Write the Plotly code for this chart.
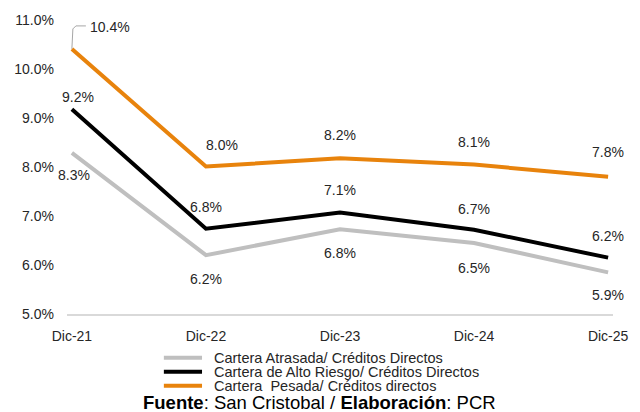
import plotly.graph_objects as go

# periods on the x axis
periods = ["Dic-21", "Dic-22", "Dic-23", "Dic-24", "Dic-25"]

# series values (%)
atrasada = [8.29, 6.20, 6.73, 6.45, 5.85]
alto_riesgo = [9.18, 6.74, 7.07, 6.72, 6.15]
pesada = [10.41, 8.01, 8.18, 8.05, 7.80]

# data labels as printed in the chart
atrasada_lbl = ["8.3%", "6.2%", "6.8%", "6.5%", "5.9%"]
alto_riesgo_lbl = ["9.2%", "6.8%", "7.1%", "6.7%", "6.2%"]
pesada_lbl = ["10.4%", "8.0%", "8.2%", "8.1%", "7.8%"]

names = ["Cartera Atrasada/ Créditos Directos",
         "Cartera de Alto Riesgo/ Créditos Directos",
         "Cartera  Pesada/ Créditos directos"]
colors = ["#BFBFBF", "#000000", "#E8830C"]

FONT = "Liberation Sans, Arial, sans-serif"

fig = go.Figure()
for vals, col in zip([atrasada, alto_riesgo, pesada], colors):
    fig.add_trace(go.Scatter(x=periods, y=vals, mode="lines",
                             line=dict(color=col, width=4),
                             showlegend=False, hoverinfo="skip"))

# label offsets (pixels) per point
offs_gray = [(2, -22), (0, -24), (0, -24), (0, -25), (0, -23)]
offs_black = [(6, 12), (0, 22), (0, 23), (0, 21), (0, 22)]
offs_orange = [(38, 22), (16, 22), (0, 23), (0, 23), (0, 25)]

ann = []
for vals, lbls, offs in [(atrasada, atrasada_lbl, offs_gray),
                         (alto_riesgo, alto_riesgo_lbl, offs_black),
                         (pesada, pesada_lbl, offs_orange)]:
    for i, (v, t) in enumerate(zip(vals, lbls)):
        ann.append(dict(x=periods[i], y=v, xref="x", yref="y", text=t,
                        showarrow=False, xshift=offs[i][0], yshift=offs[i][1],
                        font=dict(size=14, color="#262626", family=FONT)))

# leader line for 10.4%
fig.add_shape(type="path", xref="x", yref="y", xsizemode="pixel", ysizemode="pixel",
              xanchor=periods[0], yanchor=pesada[0],
              path="M0,0 L1,20 L4,23 L14,23", line=dict(color="#A6A6A6", width=1))

# manual legend
leg_y = [-0.1492, -0.1966, -0.2441]
for name, col, y in zip(names, colors, leg_y):
    fig.add_shape(type="line", xref="paper", yref="paper", x0=0.1774, x1=0.2473,
                  y0=y, y1=y, line=dict(color=col, width=4))
    ann.append(dict(x=0.2652, y=y, xref="paper", yref="paper", text=name,
                    showarrow=False, xanchor="left", yanchor="middle",
                    font=dict(size=14.5, color="#262626", family=FONT)))

ann.append(dict(x=0.4633, y=-0.302, xref="paper", yref="paper",
                text="<b>Fuente</b>: San Cristobal / <b>Elaboración</b>: PCR",
                showarrow=False, xanchor="center", yanchor="middle",
                font=dict(size=18.5, color="#000000", family=FONT)))

fig.update_layout(
    width=640, height=412,
    margin=dict(l=67, r=15, t=19, b=98),
    paper_bgcolor="white", plot_bgcolor="white",
    font=dict(family=FONT, size=14, color="#262626"),
    annotations=ann,
)
fig.update_xaxes(type="category", range=[-0.0365, 4.0365], showgrid=False,
                 showline=True, linecolor="#D9D9D9", linewidth=1.5,
                 ticks="", tickfont=dict(size=14), ticklabelstandoff=8)
fig.update_yaxes(range=[5, 11], dtick=1, tickformat=".1f", ticksuffix="%",
                 showgrid=False, zeroline=False, showline=False,
                 tickfont=dict(size=14), ticklabelstandoff=12)

fig.write_html("out.html", config={"displayModeBar": False},
               post_script="document.body.style.margin='0';")
